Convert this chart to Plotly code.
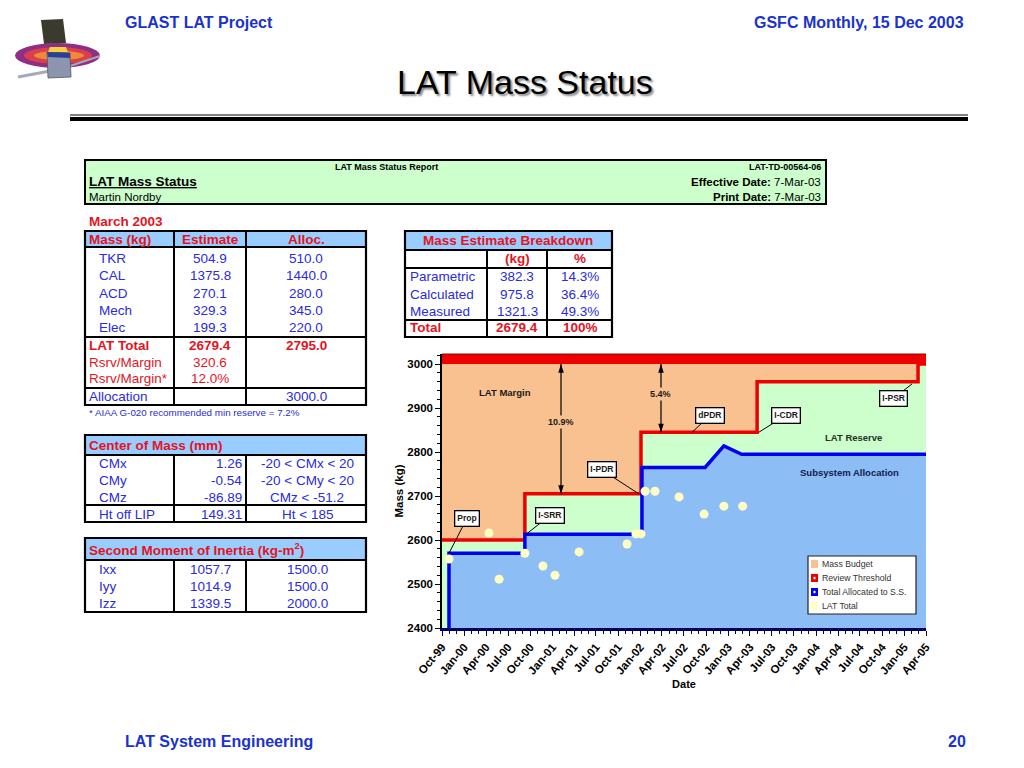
import plotly.graph_objects as go
import pandas as pd

# ---------------- data ----------------
budget_dates = ["1999-10-01", "2005-04-01"]
budget_mass = [3000, 3000]

threshold_dates = ["1999-10-01", "2000-09-09", "2002-01-04", "2003-05-01", "2005-02-27", "2005-04-01"]
threshold_mass = [2600, 2705, 2845, 2960, 3000, 3000]

alloc_dates = ["1999-10-30", "1999-10-30", "2000-09-09", "2000-09-09", "2002-01-08", "2002-01-08",
               "2002-09-27", "2002-12-14", "2003-02-26", "2005-04-01"]
alloc_mass = [2400, 2570, 2570, 2613, 2613, 2765, 2765, 2814, 2795, 2795]

lat_total_dates = ["1999-10-30", "2000-04-13", "2000-05-25", "2000-09-09", "2000-11-23", "2001-01-12",
                   "2001-04-22", "2001-11-07", "2001-12-14", "2002-01-04", "2002-01-21", "2002-03-03",
                   "2002-06-11", "2002-09-23", "2002-12-14", "2003-03-02"]
lat_total_mass = [2557, 2616, 2511, 2570, 2541, 2520, 2573, 2591, 2614, 2614, 2711, 2711,
                  2698, 2659, 2677, 2677]

xtick_labels = ["Oct-99", "Jan-00", "Apr-00", "Jul-00", "Oct-00", "Jan-01", "Apr-01", "Jul-01",
                "Oct-01", "Jan-02", "Apr-02", "Jul-02", "Oct-02", "Jan-03", "Apr-03", "Jul-03",
                "Oct-03", "Jan-04", "Apr-04", "Jul-04", "Oct-04", "Jan-05", "Apr-05"]
ytick_values = [2400, 2500, 2600, 2700, 2800, 2900, 3000]

milestones = ["Prop", "I-SRR", "I-PDR", "dPDR", "I-CDR", "I-PSR"]
milestone_dates = ["1999-10-30", "2000-09-14", "2001-12-26", "2002-08-04", "2003-05-08", "2005-02-02"]
milestone_mass = [2570, 2613, 2705, 2845, 2845, 2955]

margin_labels = ["10.9%", "5.4%"]
margin_dates = ["2001-02-06", "2002-03-28"]
margin_low = [2705, 2845]
margin_top = [3000, 3000]

mass_rows = ["TKR", "CAL", "ACD", "Mech", "Elec"]
mass_est = ["504.9", "1375.8", "270.1", "329.3", "199.3"]
mass_alloc = ["510.0", "1440.0", "280.0", "345.0", "220.0"]
total_rows = ["LAT Total", "Rsrv/Margin", "Rsrv/Margin*"]
total_est = ["2679.4", "320.6", "12.0%"]
total_alloc = ["2795.0", "", ""]
allocation_value = "3000.0"

bd_rows = ["Parametric", "Calculated", "Measured"]
bd_kg = ["382.3", "975.8", "1321.3"]
bd_pct = ["14.3%", "36.4%", "49.3%"]
bd_total = ["Total", "2679.4", "100%"]

com_rows = ["CMx", "CMy", "CMz", "Ht off LIP"]
com_vals = ["1.26", "-0.54", "-86.89", "149.31"]
com_req = ["-20 &lt; CMx &lt; 20", "-20 &lt; CMy &lt; 20", "CMz &lt; -51.2", "Ht &lt; 185"]

moi_rows = ["Ixx", "Iyy", "Izz"]
moi_vals = ["1057.7", "1014.9", "1339.5"]
moi_lim = ["1500.0", "1500.0", "2000.0"]

# ---------------- styles ----------------
W, H = 1024, 768
FONT = "Liberation Sans, Arial, sans-serif"
NARROW = "Liberation Sans Narrow, Arial Narrow, Liberation Sans, Arial, sans-serif"
ORANGE = "#F9C18F"
GREEN = "#CCFFCC"
LBLUE = "#8DBDF5"
BLUE = "#0000EE"
RED = "#EE0000"
YEL = "#FFFFC4"
HDRBLUE = "#99CCFF"
TBLUE = "#2B2BD9"
TRED = "#E3141E"
SLIDEBLUE = "#1A33CC"


def X(p):
    return p / W


def Y(p):
    return 1 - p / H


annotations = []
shapes = []


def txt(x, y, s, size, color="black", anchor="left", bold=False, family=FONT, **fontkw):
    if bold:
        s = "<b>" + s + "</b>"
    annotations.append(dict(xref="paper", yref="paper", x=X(x), y=Y(y), text=s, showarrow=False,
                            xanchor=anchor, yanchor="middle",
                            font=dict(size=size, color=color, family=family, **fontkw)))


def rect(x0, y0, x1, y1, fill=None, line=None, lw=0, layer="above"):
    shapes.append(dict(type="rect", xref="paper", yref="paper", x0=X(x0), x1=X(x1), y0=Y(y0), y1=Y(y1),
                       fillcolor=fill or "rgba(0,0,0,0)",
                       line=dict(color=line or "rgba(0,0,0,0)", width=lw), layer=layer))


def seg(x0, y0, x1, y1, color="black", w=2):
    shapes.append(dict(type="line", xref="paper", yref="paper", x0=X(x0), x1=X(x1), y0=Y(y0), y1=Y(y1),
                       line=dict(color=color, width=w), layer="above"))


def ellipse(x0, y0, x1, y1, fill):
    shapes.append(dict(type="circle", xref="paper", yref="paper", x0=X(x0), x1=X(x1), y0=Y(y0), y1=Y(y1),
                       fillcolor=fill, line=dict(width=0), layer="above"))


def poly(pts, fill, line=None, lw=0):
    path = "M " + " L ".join(f"{X(a)},{Y(b)}" for a, b in pts) + " Z"
    shapes.append(dict(type="path", xref="paper", yref="paper", path=path, fillcolor=fill,
                       line=dict(color=line or "rgba(0,0,0,0)", width=lw), layer="above"))


# ---------------- slide header ----------------
# logo (approximation)
poly([(41, 20), (63, 19), (66, 43), (44, 44)], "#3B3A2E")
ellipse(15, 43, 100, 68, "#8E2E84")
ellipse(24, 47, 92, 64, "#D8404E")
ellipse(34, 51, 84, 60, "#F08A3A")
seg(18, 77, 50, 71, "#A8A8B8", 3)
seg(70, 66, 100, 56, "#A8A8B8", 2)
poly([(47, 52), (70, 53), (71, 77), (48, 78)], "#8B95AE", "#555", 0.8)
poly([(47, 52), (70, 53), (70, 58), (48, 57)], "#2A3F9A")
poly([(50, 47), (66, 47), (68, 52), (48, 52)], "#F6D040")

txt(123, 23, "GLAST LAT Project", 16, SLIDEBLUE, bold=True)
txt(966, 23, "GSFC Monthly, 15 Dec 2003", 16, SLIDEBLUE, anchor="right", bold=True)
txt(525, 82, "LAT Mass Status", 34, "black", anchor="center", family=NARROW,
    shadow="2px 2px 2px #888888")
seg(70, 115, 968, 115, "black", 1)
seg(70, 119, 968, 119, "black", 4)
txt(123, 741, "LAT System Engineering", 16, SLIDEBLUE, bold=True)
txt(968, 741, "20", 16, SLIDEBLUE, anchor="right", bold=True)

# ---------------- report header box ----------------
rect(85, 160, 826, 204, GREEN, "black", 2)
txt(386, 167, "LAT Mass Status Report", 9, "black", anchor="center", bold=True)
txt(823, 167, "LAT-TD-00564-06", 9, "black", anchor="right", bold=True)
txt(87, 182, "LAT Mass Status", 13.5, "black", bold=True, lineposition="under")
txt(87, 197, "Martin Nordby", 11.5, "black")
txt(823, 182, "<b>Effective Date:</b> 7-Mar-03", 11.5, "black", anchor="right")
txt(823, 197, "<b>Print Date:</b> 7-Mar-03", 11.5, "black", anchor="right")

# ---------------- mass table ----------------
FS = 13.5
txt(87, 221, "March 2003", FS, TRED, bold=True)
rect(85, 231, 366, 247, HDRBLUE)
txt(87, 239, "Mass (kg)", FS, TRED, bold=True)
txt(210, 239, "Estimate", FS, TRED, anchor="center", bold=True)
txt(306, 239, "Alloc.", FS, TRED, anchor="center", bold=True)
for i, (r, e, a) in enumerate(zip(mass_rows, mass_est, mass_alloc)):
    yy = 258 + 17.5 * i
    txt(97, yy, r, FS, TBLUE)
    txt(210, yy, e, FS, TBLUE, anchor="center")
    txt(306, yy, a, FS, TBLUE, anchor="center")
for i, (r, e, a) in enumerate(zip(total_rows, total_est, total_alloc)):
    yy = 345 + 17 * i
    b = i == 0
    txt(87, yy, r, FS, TRED, bold=b)
    txt(210, yy, e, FS, TRED, anchor="center", bold=b)
    if a:
        txt(306, yy, a, FS, TRED, anchor="center", bold=b)
txt(87, 396, "Allocation", FS, TBLUE)
txt(306, 396, allocation_value, FS, TBLUE, anchor="center")
for yy in (247, 337, 388):
    seg(85, yy, 366, yy)
for xx in (174, 246):
    seg(xx, 231, xx, 405)
rect(85, 231, 366, 405, None, "black", 2.2)
txt(87, 412, "* AIAA G-020 recommended min reserve = 7.2%", 9.8, TBLUE)

# ---------------- breakdown table ----------------
rect(405, 231, 612, 250, HDRBLUE)
txt(508, 240, "Mass Estimate Breakdown", FS, TRED, anchor="center", bold=True)
txt(517, 259, "(kg)", FS, TRED, anchor="center", bold=True)
txt(580, 259, "%", FS, TRED, anchor="center", bold=True)
for i, (r, k, p) in enumerate(zip(bd_rows, bd_kg, bd_pct)):
    yy = 277 + 17 * i
    txt(408, yy, r, FS, TBLUE)
    txt(517, yy, k, FS, TBLUE, anchor="center")
    txt(580, yy, p, FS, TBLUE, anchor="center")
txt(408, 328, bd_total[0], FS, TRED, bold=True)
txt(517, 328, bd_total[1], FS, TRED, anchor="center", bold=True)
txt(580, 328, bd_total[2], FS, TRED, anchor="center", bold=True)
for yy in (250, 268, 320):
    seg(405, yy, 612, yy)
for xx in (487, 547):
    seg(xx, 250, xx, 337)
rect(405, 231, 612, 337, None, "black", 2.2)

# ---------------- center of mass table ----------------
rect(85, 435, 366, 455, HDRBLUE)
txt(87, 445, "Center of Mass (mm)", FS, TRED, bold=True)
for i, (r, v, q) in enumerate(zip(com_rows, com_vals, com_req)):
    yy = 463 + 17 * i
    txt(97, yy, r, FS, TBLUE)
    txt(244, yy, v, FS, TBLUE, anchor="right")
    txt(307, yy, q, FS, TBLUE, anchor="center")
for yy in (455, 505):
    seg(85, yy, 366, yy)
for xx in (174, 246):
    seg(xx, 455, xx, 522)
rect(85, 435, 366, 522, None, "black", 2.2)

# ---------------- inertia table ----------------
rect(85, 538, 366, 560, HDRBLUE)
txt(87, 549, "Second Moment of Inertia (kg-m<sup>2</sup>)", FS, TRED, bold=True)
for i, (r, v, q) in enumerate(zip(moi_rows, moi_vals, moi_lim)):
    yy = 569 + 17 * i
    txt(97, yy, r, FS, TBLUE)
    txt(210, yy, v, FS, TBLUE, anchor="center")
    txt(307, yy, q, FS, TBLUE, anchor="center")
seg(85, 560, 366, 560)
for xx in (174, 246):
    seg(xx, 560, xx, 612)
rect(85, 538, 366, 612, None, "black", 2.2)

# ---------------- chart ----------------
fig = go.Figure()
fig.add_trace(go.Scatter(x=budget_dates, y=budget_mass, mode="lines", fill="tozeroy",
                         fillcolor=ORANGE, line=dict(width=0), name="Mass Budget", showlegend=False))
fig.add_trace(go.Scatter(x=threshold_dates, y=threshold_mass, mode="lines", line_shape="hv", fill="tozeroy",
                         fillcolor=GREEN, line=dict(color=RED, width=3.5), name="Review Threshold",
                         showlegend=False))
fig.add_trace(go.Scatter(x=alloc_dates, y=alloc_mass, mode="lines", fill="tozeroy",
                         fillcolor=LBLUE, line=dict(color=BLUE, width=3.5), name="Total Allocated to S.S.",
                         showlegend=False))
fig.add_trace(go.Scatter(x=lat_total_dates, y=lat_total_mass, mode="markers",
                         marker=dict(size=9, color=YEL, line=dict(width=0)), name="LAT Total",
                         showlegend=False))

CH = "#1a1a1a"
# margin double arrows
for lab, d, lo, hi in zip(margin_labels, margin_dates, margin_low, margin_top):
    fig.add_trace(go.Scatter(x=[d, d], y=[hi, lo], mode="lines+markers",
                             line=dict(color="black", width=1.2),
                             marker=dict(symbol="arrow", size=9, angle=[0, 180], color="black"),
                             showlegend=False, hoverinfo="skip"))
    annotations.append(dict(xref="x", yref="y", x=d, y=(lo + hi) / 2 + (10 if lo > 2800 else 15),
                            text="<b>" + lab + "</b>", showarrow=False, bgcolor=ORANGE,
                            font=dict(size=9, color=CH, family=FONT)))

# red band above 3000
shapes.append(dict(type="rect", xref="x domain", yref="y", x0=0, x1=1, y0=3000, y1=3025,
                   fillcolor=RED, line=dict(width=0), layer="above"))
shapes.append(dict(type="line", xref="x domain", yref="y domain", x0=0, x1=1, y0=1, y1=1,
                   line=dict(color="#7A1010", width=1), layer="above"))

# milestone callouts (box offsets in pixels)
callout_offsets = [(18, -35), (24, -19), (-37, -24), (18, -17), (27, -17), (-19, 15)]
for m, d, v, (ox, oy) in zip(milestones, milestone_dates, milestone_mass, callout_offsets):
    annotations.append(dict(xref="x", yref="y", x=d, y=v, ax=ox, ay=oy, text="<b>" + m + "</b>",
                            showarrow=True, arrowhead=0, arrowwidth=1, arrowcolor="black",
                            bgcolor="white", bordercolor="black", borderwidth=1.3, borderpad=2,
                            font=dict(size=8.5, color=CH, family=FONT)))

# region labels
txt(505, 392, "LAT Margin", 9.5, CH, anchor="center", bold=True)
txt(853, 437, "LAT Reserve", 9.5, "#223322", anchor="center", bold=True)
txt(849, 472, "Subsystem Allocation", 9.5, "#102050", anchor="center", bold=True)

# legend (drawn)
rect(808, 556, 916, 614, "white", "#222", 1.2)
leg_items = ["Mass Budget", "Review Threshold", "Total Allocated to S.S.", "LAT Total"]
leg_cols = [ORANGE, RED, BLUE, YEL]
for i, (lab, c) in enumerate(zip(leg_items, leg_cols)):
    yy = 564 + 14 * i
    rect(811, yy - 4, 818, yy + 4, c)
    if i in (1, 2):
        rect(813.5, yy - 1.2, 815.5, yy + 1.2, "white")
    txt(820, yy, lab, 8.7, "#333333")

quarter_ticks = pd.date_range("1999-10-01", "2005-04-01", freq="QS-OCT")

fig.update_layout(
    template="none",
    width=W, height=H, margin=dict(l=0, r=0, t=0, b=0, pad=0, autoexpand=False),
    paper_bgcolor="white", plot_bgcolor=ORANGE, showlegend=False,
    font=dict(family=FONT),
    xaxis=dict(type="date", domain=[X(442), X(926)], range=["1999-10-01", "2005-04-01"], automargin=False,
               title=dict(text="<b>Date</b>", font=dict(size=11, color="black", family=FONT)),
               tickmode="array", tickvals=list(quarter_ticks), ticktext=xtick_labels, tickangle=-50,
               tickfont=dict(size=11.5, color="black", family=FONT, weight="bold"),
               ticks="outside", ticklen=5, tickwidth=1, tickcolor="#000060",
               showline=True, linecolor="#000060", linewidth=2.5, showgrid=False, zeroline=False,
               minor=dict(ticks="outside", ticklen=3, tick0="1999-10-01", dtick="M1", tickcolor="#000060",
                          showgrid=False)),
    yaxis=dict(domain=[Y(628), Y(354)], range=[2400, 3023], tickmode="array", tickvals=ytick_values,
               automargin=False,
               title=dict(text="<b>Mass (kg)</b>", font=dict(size=11.5, color="black", family=FONT)),
               tickfont=dict(size=11.5, color="black", family=FONT, weight="bold"),
               ticks="outside", ticklen=5, tickwidth=1, tickcolor="black",
               showline=True, linecolor="black", linewidth=1.5, showgrid=False, zeroline=False,
               minor=dict(ticks="outside", ticklen=3, tick0=2400, dtick=20, tickcolor="black",
                          showgrid=False)),
    annotations=annotations, shapes=shapes,
)

fig.write_html("out.html", config={"displayModeBar": False},
               post_script="document.body.style.margin='0';document.body.style.overflow='hidden';")
